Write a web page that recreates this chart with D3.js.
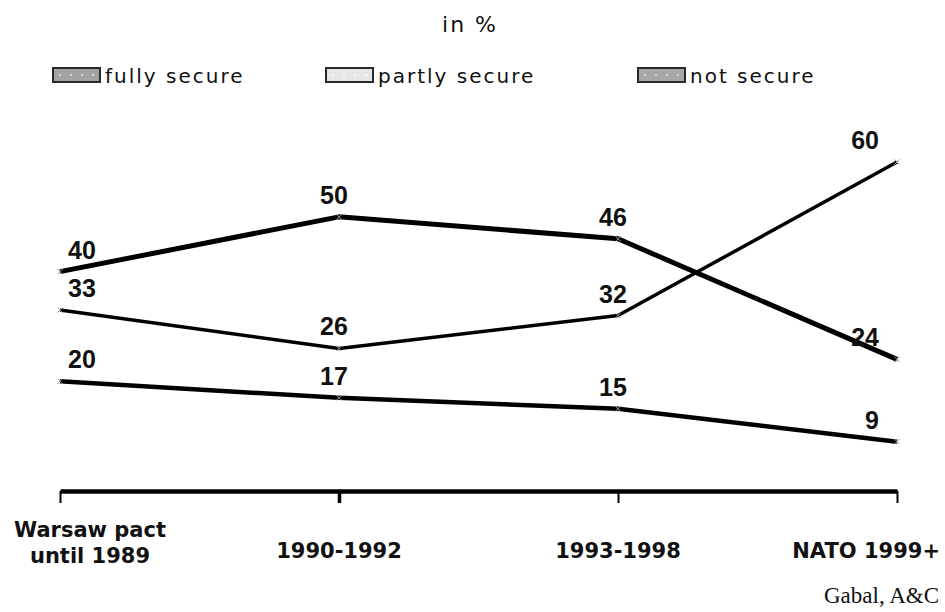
<!DOCTYPE html>
<html>
<head>
<meta charset="utf-8">
<script src="https://cdn.jsdelivr.net/npm/d3@7"></script>
<style>
  body { margin: 0; background: #fff; }
</style>
</head>
<body>
<script>
var width = 945;
var height = 612;

// data
var categories = ["Warsaw pact|until 1989", "1990-1992", "1993-1998", "NATO 1999+"];
var seriesNames = ["fully secure", "partly secure", "not secure"];
var fullySecure = [33, 26, 32, 60];
var partlySecure = [40, 50, 46, 24];
var notSecure = [20, 17, 15, 9];

// styling / layout
var swatchFill = ["#a2a2a2", "#e6e6e6", "#a8a8a8"];
var swatchDot = ["#d4d4d4", "#f8f8f8", "#cfcfcf"];
var legendX = [53, 326, 638];
var lineWidths = [3.5, 5, 4.5];
var labelAnchor = ["start", "middle", "middle", "end"];
var labelDx = [8, -5, -5, -18];
var tickAnchor = ["middle", "middle", "middle", "end"];
var tickDx = [30, 0, 0, 43];

var series = [fullySecure, partlySecure, notSecure];

var svg = d3.select("body")
  .append("svg")
  .attr("width", width)
  .attr("height", height);

var x = d3.scalePoint().domain(categories).range([60, 897]);
var y = d3.scaleLinear().domain([0, 60]).range([491, 162]);

// dotted swatch patterns
var defs = svg.append("defs");
seriesNames.forEach(function(s, i) {
  var p = defs.append("pattern")
    .attr("id", "sw" + i)
    .attr("patternUnits", "userSpaceOnUse")
    .attr("width", 11)
    .attr("height", 14);
  p.append("rect").attr("width", 11).attr("height", 14).attr("fill", swatchFill[i]);
  p.append("rect").attr("x", 6).attr("y", 6).attr("width", 2).attr("height", 2).attr("fill", swatchDot[i]);
});

// title
svg.append("text")
  .attr("x", 470)
  .attr("y", 32)
  .attr("text-anchor", "middle")
  .attr("font-family", "DejaVu Sans")
  .attr("font-size", 22)
  .attr("letter-spacing", 2)
  .attr("fill", "#111")
  .text("in %");

// legend
var legend = svg.append("g")
  .selectAll("g")
  .data(seriesNames)
  .enter()
  .append("g")
  .attr("transform", (d, i) => "translate(" + legendX[i] + ",68)");

legend.append("rect")
  .attr("width", 47)
  .attr("height", 14)
  .attr("fill", (d, i) => "url(#sw" + i + ")")
  .attr("stroke", "#2a2a2a")
  .attr("stroke-width", 2);

legend.append("text")
  .attr("x", 52)
  .attr("y", 15)
  .attr("font-family", "DejaVu Sans")
  .attr("font-size", 20)
  .attr("letter-spacing", 2)
  .attr("fill", "#111")
  .text(d => d);

// axis
var axis = svg.append("g")
  .attr("transform", "translate(0," + y(0) + ")")
  .call(d3.axisBottom(x).tickSize(12).tickSizeOuter(0).tickFormat(""));

axis.select(".domain")
  .attr("stroke", "#000")
  .attr("stroke-width", 4.5);
axis.selectAll(".tick line")
  .attr("stroke", "#000")
  .attr("stroke-width", (d, i) => i == 1 ? 3.5 : 2);

var tickLabel = svg.append("g")
  .selectAll("text")
  .data(categories)
  .enter()
  .append("text")
  .attr("text-anchor", (d, i) => tickAnchor[i])
  .attr("font-family", "DejaVu Sans")
  .attr("font-weight", "bold")
  .attr("font-size", 21)
  .attr("fill", "#111");

tickLabel.each(function(d, i) {
  var parts = d.split("|");
  var t = d3.select(this);
  parts.forEach(function(p, j) {
    t.append("tspan")
      .attr("x", x(d) + tickDx[i])
      .attr("y", parts.length > 1 ? 537 + j * 26 : 558)
      .text(p);
  });
});

// source
svg.append("text")
  .attr("x", 939)
  .attr("y", 603)
  .attr("text-anchor", "end")
  .attr("font-family", "Liberation Serif")
  .attr("font-size", 23)
  .attr("fill", "#111")
  .text("Gabal, A&C");

// lines
var line = d3.line()
  .x((d, i) => x(categories[i]))
  .y(d => y(d));

svg.append("g")
  .selectAll("path")
  .data(series)
  .enter()
  .append("path")
  .attr("d", line)
  .attr("fill", "none")
  .attr("stroke", "#000")
  .attr("stroke-width", (d, i) => lineWidths[i])
  .attr("stroke-linejoin", "round");

// small grey markers
var points = [];
series.forEach(function(s) {
  s.forEach(function(v, i) { points.push({cat: categories[i], v: v, i: i}); });
});

svg.append("g")
  .selectAll("path")
  .data(points)
  .enter()
  .append("path")
  .attr("d", d3.symbol().type(d3.symbolTimes).size(20))
  .attr("transform", d => "translate(" + x(d.cat) + "," + y(d.v) + ")")
  .attr("stroke", "#999")
  .attr("stroke-width", 1);

// value labels
svg.append("g")
  .selectAll("text")
  .data(points)
  .enter()
  .append("text")
  .attr("x", d => x(d.cat) + labelDx[d.i])
  .attr("y", d => y(d.v) - 13)
  .attr("text-anchor", d => labelAnchor[d.i])
  .attr("font-family", "Liberation Sans")
  .attr("font-weight", "bold")
  .attr("font-size", 25)
  .attr("fill", "#111")
  .text(d => d.v);
</script>
</body>
</html>
